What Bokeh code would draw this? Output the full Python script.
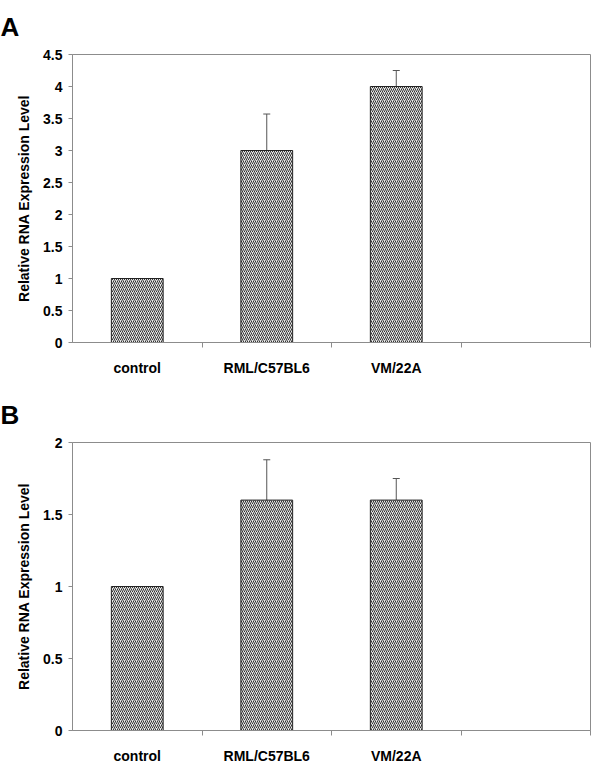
import numpy as np
from bokeh.plotting import figure
from bokeh.layouts import column
from bokeh.models import FixedTicker, Whisker, TeeHead, ColumnDataSource, Range1d
from bokeh.embed import file_html
from bokeh.resources import INLINE

categories = ["control", "RML/C57BL6", "VM/22A", ""]

a_values = [1.0, 3.0, 4.0]
a_errors = [0.0, 0.57, 0.25]
a_ticks = [0, 0.5, 1, 1.5, 2, 2.5, 3, 3.5, 4, 4.5]

b_values = [1.0, 1.6, 1.6]
b_errors = [0.0, 0.28, 0.15]
b_ticks = [0, 0.5, 1, 1.5, 2]

FONT = "Liberation Sans"
AXIS_GRAY = "#8c8c8c"


def make_panel(letter, values, errors, ticks, height, top, bottom, standoff):
    n = len(categories)
    centers = [i + 0.5 for i in range(n)]
    p = figure(width=592, height=height, output_backend="svg", toolbar_location=None,
               x_range=Range1d(0, n), y_range=Range1d(ticks[0], ticks[-1]),
               min_border_left=72, min_border_right=2,
               min_border_top=top, min_border_bottom=bottom,
               title=letter)
    p.title.text_font = FONT
    p.title.text_font_style = "bold"
    p.title.text_font_size = "26px"
    p.title.text_color = "black"
    p.title.align = "left"
    p.title.vertical_align = "top"
    p.title.offset = -72
    p.title.standoff = standoff

    p.grid.visible = False
    p.outline_line_color = AXIS_GRAY
    p.outline_line_width = 1
    p.background_fill_color = "white"
    p.border_fill_color = "white"

    src = ColumnDataSource(dict(x=centers[:len(values)], top=values))
    p.vbar(x="x", top="top", bottom=0, width=0.4, source=src,
           fill_color="#e6e6e6", line_color="#222222", line_width=1,
           hatch_pattern="/", hatch_color="#333333", hatch_scale=4, hatch_weight=1)

    ex = [centers[i] for i in range(len(values)) if errors[i] > 0]
    eu = [values[i] + errors[i] for i in range(len(values)) if errors[i] > 0]
    el = [values[i] - errors[i] for i in range(len(values)) if errors[i] > 0]
    esrc = ColumnDataSource(dict(base=ex, upper=eu, lower=el))
    w = Whisker(base="base", upper="upper", lower="lower", source=esrc,
                line_color="#555555", line_width=1,
                upper_head=TeeHead(size=7, line_color="#555555", line_width=1),
                lower_head=TeeHead(size=7, line_color="#555555", line_width=1))
    p.add_layout(w)

    # x axis
    xa = p.xaxis[0]
    xa.ticker = FixedTicker(ticks=centers, minor_ticks=[i + 1 for i in range(n)])
    xa.major_label_overrides = {c: lab for c, lab in zip(centers, categories)}
    xa.major_tick_out = 0
    xa.major_tick_in = 0
    xa.minor_tick_out = 5
    xa.minor_tick_in = 0
    xa.minor_tick_line_color = AXIS_GRAY
    xa.axis_line_color = AXIS_GRAY
    xa.major_label_standoff = 12
    xa.major_label_text_font = FONT
    xa.major_label_text_font_style = "bold"
    xa.major_label_text_font_size = "14px"
    xa.major_label_text_color = "black"

    # y axis
    ya = p.yaxis[0]
    ya.ticker = FixedTicker(ticks=ticks)
    ya.major_label_overrides = {t: f"{t:g}" for t in ticks}
    ya.major_tick_out = 4
    ya.major_tick_in = 0
    ya.minor_tick_out = 0
    ya.minor_tick_in = 0
    ya.major_tick_line_color = AXIS_GRAY
    ya.axis_line_color = AXIS_GRAY
    ya.major_label_standoff = 6
    ya.major_label_text_font = FONT
    ya.major_label_text_font_style = "bold"
    ya.major_label_text_font_size = "14px"
    ya.major_label_text_color = "black"
    ya.axis_label = "Relative RNA Expression Level"
    ya.axis_label_text_font = FONT
    ya.axis_label_text_font_style = "bold"
    ya.axis_label_text_font_size = "14px"
    ya.axis_label_text_color = "black"
    ya.axis_label_standoff = 8
    return p


pa = make_panel("A", a_values, a_errors, a_ticks, 388, 54, 46, 22)
pb = make_panel("B", b_values, b_errors, b_ticks, 385, 54, 43, 22)

layout = column(pa, pb, spacing=0)
open("out.html", "w").write(file_html(layout, INLINE))
